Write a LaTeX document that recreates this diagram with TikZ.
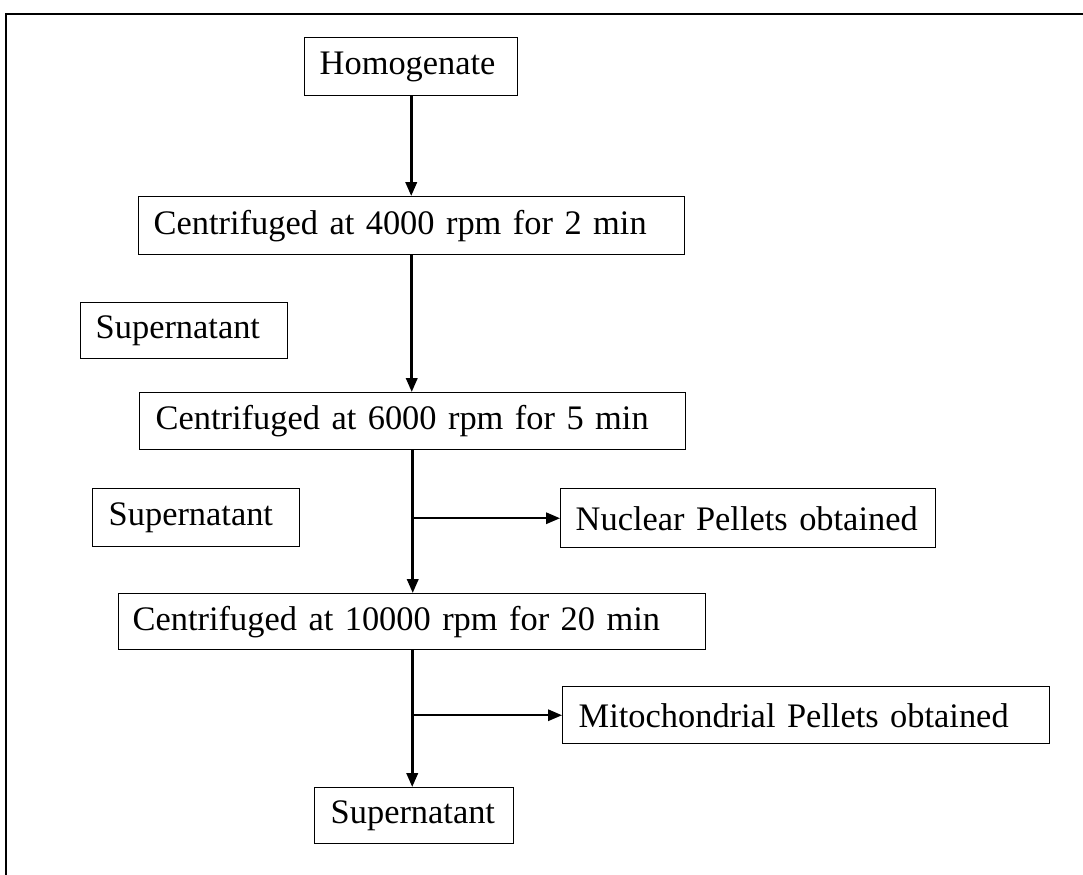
\documentclass[tikz,border=0pt]{standalone}
\usepackage{fontspec}
\setmainfont{Liberation Serif}
\usetikzlibrary{arrows.meta}
\begin{document}
\begin{tikzpicture}[x=0.75pt,y=-0.75pt,
  bx/.style={draw, line width=1.1pt, anchor=north west, align=left, inner ysep=0pt,
    font=\fontsize{25.8}{30}\selectfont},
  arr/.style={line width=2pt, -{Triangle[length=10.5pt,width=8.5pt]}},
  brn/.style={line width=1.6pt, -{Triangle[length=10.5pt,width=8.5pt]}},
  frame/.style={line width=1.1pt}]
\useasboundingbox (0,0) rectangle (1083,875);
% outer frame (top and left edges visible)
\coordinate (ftr) at (1083,14);
\coordinate (ftl) at (6,14);
\coordinate (fbl) at (6,875);
\draw[frame] (ftr) -- (ftl) -- (fbl);
% boxes
\node[bx, minimum width=159.75pt, minimum height=43.5pt, inner xsep=11.25pt, text width=137.25pt] (hom) at (304,37) {\mbox{Homogenate}};
\node[bx, minimum width=409.5pt, minimum height=43.5pt, inner xsep=11.25pt, text width=387pt] (c4) at (138,196) {\mbox{Centrifuged at 4000 rpm for 2 min}};
\node[bx, minimum width=155.25pt, minimum height=42pt, inner xsep=11.25pt, text width=132.75pt] (sup1) at (80,302) {\mbox{Supernatant}};
\node[bx, minimum width=409.5pt, minimum height=42.75pt, inner xsep=12pt, text width=385.5pt] (c6) at (139,392) {\mbox{Centrifuged at 6000 rpm for 5 min}};
\node[bx, minimum width=155.25pt, minimum height=43.5pt, inner xsep=12pt, text width=131.25pt] (sup2) at (92,488) {\mbox{Supernatant}};
\node[bx, minimum width=281.25pt, minimum height=44.25pt, inner xsep=11.25pt, text width=258.75pt] (nuc) at (560,488) {\mbox{Nuclear Pellets obtained}};
\node[bx, minimum width=440.25pt, minimum height=42pt, inner xsep=10.5pt, text width=419.25pt] (c10) at (118,593) {\mbox{Centrifuged at 10000 rpm for 20 min}};
\node[bx, minimum width=365.25pt, minimum height=42.75pt, inner xsep=12pt, text width=341.25pt] (mito) at (562,686) {\mbox{Mitochondrial Pellets obtained}};
\node[bx, minimum width=149.25pt, minimum height=42pt, inner xsep=12pt, text width=125.25pt] (sup3) at (314,787) {\mbox{Supernatant}};
% connectors
\draw[arr] (hom.south) -- (hom.south |- c4.north);
\draw[arr] (c4.south) -- (c4.south |- c6.north);
\draw[arr] (c6.south) -- (c6.south |- c10.north);
\draw[brn] (c6.south |- nuc.west) -- (nuc.west);
\draw[arr] (c10.south) -- (c10.south |- sup3.north);
\draw[brn] (c10.south |- mito.west) -- (mito.west);
\end{tikzpicture}
\end{document}
